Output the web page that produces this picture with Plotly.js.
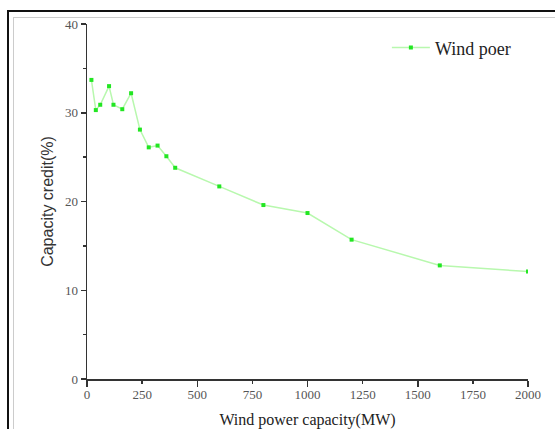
<!DOCTYPE html>
<html>
<head>
<meta charset="utf-8">
<script src="https://cdn.plot.ly/plotly-3.0.1.min.js"></script>
<style>
html,body{margin:0;padding:0;background:#fff;width:555px;height:429px;overflow:hidden;}
#frame1{position:absolute;left:7px;top:10px;width:600px;height:500px;border-left:2px solid #111;border-top:2px solid #111;}
#frame2{position:absolute;left:13px;top:17px;width:600px;height:500px;border-left:1px solid #ccc;border-top:1px solid #ccc;}
#chart{position:absolute;left:0;top:0;width:555px;height:429px;}
</style>
</head>
<body>
<div id="frame1"></div>
<div id="frame2"></div>
<div id="chart"></div>
<script>
// Data
const capacityMW = [20, 40, 60, 100, 120, 160, 200, 240, 280, 320, 360, 400, 600, 800, 1000, 1200, 1600, 2000];
const capacityCredit = [33.7, 30.3, 30.9, 33.0, 30.9, 30.4, 32.2, 28.1, 26.1, 26.3, 25.1, 23.8, 21.7, 19.6, 18.7, 15.7, 12.8, 12.1];
const seriesName = "Wind poer";
const xTickVals = [0, 250, 500, 750, 1000, 1250, 1500, 1750, 2000];
const xMajorTicks = [0, 500, 1000, 1500, 2000];
const yTickVals = [0, 10, 20, 30, 40];
const yMinorTicks = [5, 15, 25, 35];

const serif = "Liberation Serif, Times New Roman, serif";

const trace = {
  x: capacityMW,
  y: capacityCredit,
  type: "scatter",
  mode: "lines+markers",
  name: seriesName,
  line: {color: "#b8f8ae", width: 1.5},
  marker: {color: "#22e622", size: 4, symbol: "square", line: {width: 0}}
};

const layout = {
  width: 555,
  height: 429,
  margin: {l: 87, r: 26.5, t: 24, b: 50, pad: 0},
  paper_bgcolor: "rgba(0,0,0,0)",
  plot_bgcolor: "rgba(0,0,0,0)",
  showlegend: true,
  legend: {
    x: 0.68, y: 0.985, xanchor: "left", yanchor: "top",
    bgcolor: "rgba(0,0,0,0)",
    font: {family: serif, size: 18, color: "#222"},
    itemwidth: 38
  },
  xaxis: {
    range: [0, 2000],
    tickmode: "array",
    tickvals: xTickVals,
    ticks: "outside",
    ticklen: 3,
    tickwidth: 1.5,
    tickcolor: "#333",
    showline: true,
    linecolor: "#333",
    linewidth: 1.5,
    showgrid: false,
    zeroline: false,
    tickfont: {family: serif, size: 13, color: "#555"},
    title: {text: "Wind power capacity(MW)", font: {family: serif, size: 16, color: "#222"}, standoff: 14},
    minor: {tickmode: "array", tickvals: xMajorTicks, ticks: "outside", ticklen: 6, tickwidth: 1.5, tickcolor: "#333", showgrid: false}
  },
  yaxis: {
    range: [0, 40],
    tickmode: "array",
    tickvals: yTickVals,
    ticks: "outside",
    ticklen: 5,
    tickwidth: 1.5,
    tickcolor: "#333",
    showline: true,
    linecolor: "#333",
    linewidth: 1.5,
    showgrid: false,
    zeroline: false,
    tickfont: {family: serif, size: 13, color: "#555"},
    title: {text: "Capacity credit(%)", font: {family: "Liberation Sans, Arial, sans-serif", size: 16, color: "#333"}, standoff: 7},
    minor: {tickmode: "array", tickvals: yMinorTicks, ticks: "outside", ticklen: 3, tickwidth: 1.5, tickcolor: "#333", showgrid: false}
  }
};

Plotly.newPlot("chart", [trace], layout, {displayModeBar: false, staticPlot: true});
</script>
</body>
</html>
